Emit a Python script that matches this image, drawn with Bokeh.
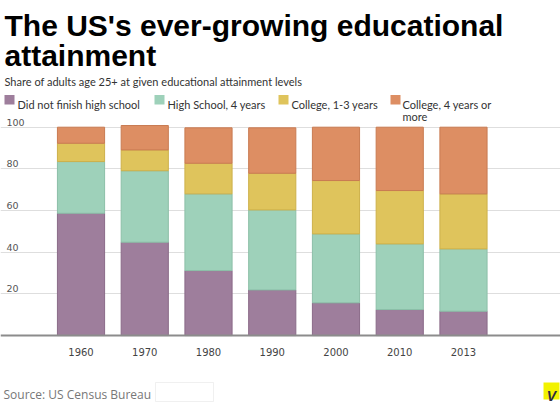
from bokeh.plotting import figure
from bokeh.models import ColumnDataSource, Range1d, FixedTicker, Span, Label, BoxAnnotation
from bokeh.core.properties import value
from bokeh.embed import file_html
from bokeh.resources import INLINE

# ---- data ----
years = ["1960", "1970", "1980", "1990", "2000", "2010", "2013"]
no_high_school = [58.7, 44.8, 31.2, 21.9, 15.7, 12.5, 11.7]
high_school_4 = [24.8, 34.3, 36.8, 38.4, 33.1, 31.5, 29.9]
college_1_3 = [8.8, 10.0, 14.7, 17.6, 25.6, 25.6, 26.4]
college_4_plus = [7.7, 11.7, 17.0, 21.8, 25.6, 30.4, 32.0]
series_labels = ["Did not finish high school", "High School, 4 years",
                 "College, 1-3 years", "College, 4 years or"]
y_ticks = [20, 40, 60, 80, 100]
y_tick_labels = ["20", "40", "60", "80", "100"]

colors = ["#9e7e9c", "#9ed1ba", "#dfc45c", "#dd8e63"]
edge_colors = ["#8a6a88", "#8cbfa8", "#cdb04a", "#c97b52"]

W, H = 560, 403
x_start, x_end = -1.263, 7.522
y_start, y_end = -32.6, 160.8

p = figure(width=W, height=H, x_range=Range1d(x_start, x_end), y_range=Range1d(y_start, y_end),
           x_axis_location=None, y_axis_location=None, min_border=0,
           toolbar_location=None, output_backend="svg", outline_line_color=None,
           background_fill_color="white", border_fill_color="white")
p.xgrid.visible = False
p.ygrid.ticker = FixedTicker(ticks=y_ticks)
p.ygrid.grid_line_color = "#dedede"
p.ygrid.grid_line_width = 1

keys = ["a", "b", "c", "d"]
src = ColumnDataSource(dict(x=list(range(len(years))), a=no_high_school, b=high_school_4,
                            c=college_1_3, d=college_4_plus))
p.vbar_stack(keys, x="x", width=0.74, source=src, fill_color=colors,
             line_color=edge_colors, line_width=1)

p.add_layout(Span(location=0, dimension="width", line_color="#8c8c8c", line_width=2))

# y tick labels (above gridlines, at left)
p.text(x=[x_start] * len(y_ticks), y=y_ticks, text=y_tick_labels, x_offset=6, y_offset=-5,
       text_baseline="alphabetic", text_align="left", text_font=value("DejaVu Sans"),
       text_font_size="9.5px", text_color="#555555")
# x tick labels
p.text(x=list(range(len(years))), y=[0] * len(years), text=years, y_offset=16,
       text_baseline="alphabetic", text_align="center", text_font=value("DejaVu Sans"),
       text_font_size="10px", text_color="#444444")

def sy(top_y):
    return H - top_y

def lab(x, y, text, font, size, color, style="normal", align="left"):
    p.add_layout(Label(x=x, y=sy(y), x_units="screen", y_units="screen", text=text,
                       text_font=font, text_font_size=size, text_color=color,
                       text_font_style=style, text_baseline="alphabetic", text_align=align))

def box(l, r, t, b, fill, line=None):
    p.add_layout(BoxAnnotation(left=l, right=r, top=sy(t), bottom=sy(b),
                               left_units="screen", right_units="screen",
                               top_units="screen", bottom_units="screen",
                               fill_color=fill, fill_alpha=1, line_color=line, line_width=1))

lab(4, 25, "The US's ever-growing educational", "Liberation Sans", "30px", "#000000", "bold")
lab(4, 55, "attainment", "Liberation Sans", "30px", "#000000", "bold")
lab(4, 81, "Share of adults age 25+ at given educational attainment levels", "Lato", "11px", "#333333")

legend_box_x = [4, 154, 278, 390]
legend_text_x = [17, 167, 291, 402]
for bx, tx, c, t in zip(legend_box_x, legend_text_x, colors, series_labels):
    box(bx, bx + 10, 94.5, 104, c)
    lab(tx, 103.7, t, "Lato", "11px", "#333333")
lab(legend_text_x[3], 116.3, "more", "Lato", "11px", "#333333")

lab(3, 394, "Source: US Census Bureau", "Open Sans", "12px", "#777777")
box(155, 213, 382, 401, "white", "#cccccc")
box(543, 559, 382, 399, "#f2f200")
lab(551, 395, "V", "Liberation Sans", "14px", "#2a2a40", "bold italic", "center")

open("out.html", "w").write(file_html(p, INLINE))
